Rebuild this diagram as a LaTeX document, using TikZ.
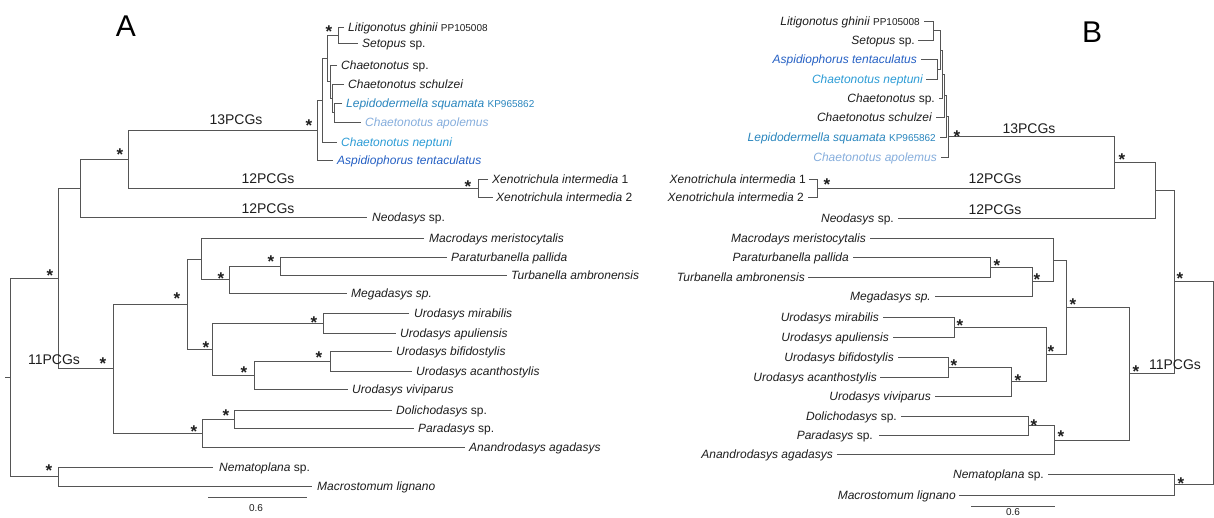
\documentclass[tikz,border=0pt]{standalone}
\usepackage{fontspec}
\setmainfont{Liberation Sans}
\definecolor{lep}{HTML}{2A86BE}
\definecolor{apo}{HTML}{86AEDD}
\definecolor{nep}{HTML}{2C9CD6}
\definecolor{asp}{HTML}{2560C4}
\definecolor{ln}{HTML}{555555}
\definecolor{tx}{HTML}{1E1E1E}
\newcommand\sm[1]{{\fontsize{10}{12}\selectfont\upshape #1}}
\newcommand\up[1]{{\upshape #1}}
\tikzset{
  br/.style={draw=ln, line width=0.8pt, line join=miter},
  tipa/.style={anchor=base west, inner sep=0pt, text=tx, font=\fontsize{12}{14}\selectfont\itshape},
  tipb/.style={anchor=base east, inner sep=0pt, text=tx, font=\fontsize{12}{14}\selectfont\itshape},
  lbl/.style={anchor=center, inner sep=0pt, text=tx, font=\fontsize{14}{16}\selectfont},
  ast/.style={anchor=base, inner sep=0pt, text=tx, font=\fontsize{17}{17}\selectfont\bfseries},
  panel/.style={anchor=center, inner sep=0pt, text=black, font=\fontsize{30}{30}\selectfont},
  scl/.style={anchor=center, inner sep=0pt, text=tx, font=\fontsize{10}{12}\selectfont}
}
\newcommand\bst[3]{\node[ast] (#1) at (#2,#3+9.9) {*};}
\begin{document}
\begin{tikzpicture}[x=1pt,y=-1pt]
\useasboundingbox[fill=white] (0,0) rectangle (1214,517);

% ================= Panel A =================
\node[panel] (pA) at (126,26) {A};
\draw[br] (5,377)--(10,377);
\draw[br] (58,278)--(10,278)--(10,476.5)--(58,476.5);
\draw[br] (213,467)--(58,467)--(58,486)--(312,486);
\draw[br] (80,188)--(58,188)--(58,368.5)--(113,368.5);
\draw[br] (128,159)--(80,159)--(80,217)--(367,217);
\draw[br] (317,130)--(128,130)--(128,188)--(478,188);
\draw[br] (488,179)--(478,179)--(478,197)--(493,197);
\draw[br] (322,100)--(317,100)--(317,160)--(333,160);
\draw[br] (327,58)--(322,58)--(322,142)--(337,142);
\draw[br] (338,35)--(327,35)--(327,81.5)--(330,81.5);
\draw[br] (344,27)--(338,27)--(338,43)--(358,43);
\draw[br] (337,65)--(330,65)--(330,98)--(332,98);
\draw[br] (344,84)--(332,84)--(332,112.5)--(334,112.5);
\draw[br] (342,103)--(334,103)--(334,122)--(361,122);
\draw[br] (187,304)--(113,304)--(113,433)--(202,433);
\draw[br] (201,259)--(187,259)--(187,349)--(212,349);
\draw[br] (424,238)--(201,238)--(201,279.5)--(229,279.5);
\draw[br] (280,266)--(229,266)--(229,293)--(347,293);
\draw[br] (447,257)--(280,257)--(280,275)--(507,275);
\draw[br] (323,323)--(212,323)--(212,375)--(254,375);
\draw[br] (409,313)--(323,313)--(323,333)--(396,333);
\draw[br] (330,361)--(254,361)--(254,389)--(348,389);
\draw[br] (392,351)--(330,351)--(330,371)--(412,371);
\draw[br] (234,419)--(202,419)--(202,447)--(465,447);
\draw[br] (392,410)--(234,410)--(234,428)--(414,428);

\node[tipa] (a1) at (348,31) {Litigonotus ghinii \sm{PP105008}};
\node[tipa] (a2) at (362,47) {Setopus \up{sp.}};
\node[tipa] (a3) at (341,69) {Chaetonotus \up{sp.}};
\node[tipa] (a4) at (348,88) {Chaetonotus schulzei};
\node[tipa,text=lep] (a5) at (346,107) {Lepidodermella squamata \sm{KP965862}};
\node[tipa,text=apo] (a6) at (365,126) {Chaetonotus apolemus};
\node[tipa,text=nep] (a7) at (341,146) {Chaetonotus neptuni};
\node[tipa,text=asp] (a8) at (337,164) {Aspidiophorus tentaculatus};
\node[tipa] (a9) at (492,183) {Xenotrichula intermedia \up{1}};
\node[tipa] (a10) at (496,201) {Xenotrichula intermedia \up{2}};
\node[tipa] (a11) at (372,221) {Neodasys \up{sp.}};
\node[tipa] (a12) at (429,242) {Macrodays meristocytalis};
\node[tipa] (a13) at (451,261) {Paraturbanella pallida};
\node[tipa] (a14) at (511,279) {Turbanella ambronensis};
\node[tipa] (a15) at (351,297) {Megadasys sp.};
\node[tipa] (a16) at (414,317) {Urodasys mirabilis};
\node[tipa] (a17) at (400,337) {Urodasys apuliensis};
\node[tipa] (a18) at (396,355) {Urodasys bifidostylis};
\node[tipa] (a19) at (416,375) {Urodasys acanthostylis};
\node[tipa] (a20) at (352,393) {Urodasys viviparus};
\node[tipa] (a21) at (396,414) {Dolichodasys \up{sp.}};
\node[tipa] (a22) at (418,432) {Paradasys \up{sp.}};
\node[tipa] (a23) at (469,451) {Anandrodasys agadasys};
\node[tipa] (a24) at (219,471) {Nematoplana \up{sp.}};
\node[tipa] (a25) at (317,490) {Macrostomum lignano};

\node[lbl] (aL13) at (236,120) {13PCGs};
\node[lbl] (aL12a) at (268,179) {12PCGs};
\node[lbl] (aL12b) at (268,209) {12PCGs};
\node[lbl] (aL11) at (54,360) {11PCGs};

\bst{sa1}{329}{28}
\bst{sa2}{309}{122}
\bst{sa3}{120}{151}
\bst{sa4}{468}{183}
\bst{sa5}{50}{272}
\bst{sa6}{49}{467}
\bst{sa7}{271}{258}
\bst{sa8}{221}{275}
\bst{sa9}{177}{295}
\bst{sa10}{206}{344}
\bst{sa11}{314}{319}
\bst{sa12}{319}{354}
\bst{sa13}{244}{369}
\bst{sa14}{103}{360}
\bst{sa15}{194}{428}
\bst{sa16}{226}{412}

\draw[br] (208,497)--(307,497);
\node[scl] (aS) at (256,508) {0.6};

% ================= Panel B =================
\node[panel] (pB) at (1092,32) {B};
\draw[br] (1174,281.75)--(1213,281.75)--(1213,484.5)--(1174,484.5);
\draw[br] (1155,190)--(1174,190)--(1174,373.5)--(1129,373.5);
\draw[br] (1048,474)--(1174,474)--(1174,495)--(959,495);
\draw[br] (1114,162)--(1155,162)--(1155,218)--(898,218);
\draw[br] (948,136.5)--(1114,136.5)--(1114,188)--(817,188);
\draw[br] (809,179)--(817,179)--(817,197)--(808,197);
\draw[br] (946,116)--(948,116)--(948,157)--(941,157);
\draw[br] (944,95.5)--(946,95.5)--(946,137)--(940,137);
\draw[br] (942,74)--(944,74)--(944,117)--(936,117);
\draw[br] (940,50)--(942,50)--(942,98)--(939,98);
\draw[br] (933,30.5)--(940,30.5)--(940,69)--(937,69);
\draw[br] (924,21)--(933,21)--(933,40)--(918,40);
\draw[br] (921,59)--(937,59)--(937,79)--(926,79);
\draw[br] (1066,307)--(1129,307)--(1129,440)--(1054,440);
\draw[br] (1053,260)--(1066,260)--(1066,354)--(1046,354);
\draw[br] (870,238)--(1053,238)--(1053,281.5)--(1032,281.5);
\draw[br] (990,267)--(1032,267)--(1032,296)--(935,296);
\draw[br] (853,257)--(990,257)--(990,277)--(808,277);
\draw[br] (954,327)--(1046,327)--(1046,381.5)--(1011,381.5);
\draw[br] (883,317)--(954,317)--(954,337)--(893,337);
\draw[br] (948,367)--(1011,367)--(1011,396)--(935,396);
\draw[br] (898,357)--(948,357)--(948,377)--(880,377);
\draw[br] (1028,425.5)--(1054,425.5)--(1054,454)--(837,454);
\draw[br] (901,416)--(1028,416)--(1028,435)--(879,435);

\node[tipb] (b1) at (920,25) {Litigonotus ghinii \sm{PP105008}};
\node[tipb] (b2) at (915,44) {Setopus \up{sp.}};
\node[tipb,text=asp] (b3) at (917,63) {Aspidiophorus tentaculatus};
\node[tipb,text=nep] (b4) at (923,83) {Chaetonotus neptuni};
\node[tipb] (b5) at (935,102) {Chaetonotus \up{sp.}};
\node[tipb] (b6) at (932,121) {Chaetonotus schulzei};
\node[tipb,text=lep] (b7) at (936,141) {Lepidodermella squamata \sm{KP965862}};
\node[tipb,text=apo] (b8) at (937,161) {Chaetonotus apolemus};
\node[tipb] (b9) at (806,183) {Xenotrichula intermedia \up{1}};
\node[tipb] (b10) at (804,201) {Xenotrichula intermedia \up{2}};
\node[tipb] (b11) at (894,222) {Neodasys \up{sp.}};
\node[tipb] (b12) at (866,242) {Macrodays meristocytalis};
\node[tipb] (b13) at (849,261) {Paraturbanella pallida};
\node[tipb] (b14) at (805,281) {Turbanella ambronensis};
\node[tipb] (b15) at (931,300) {Megadasys sp.};
\node[tipb] (b16) at (879,321) {Urodasys mirabilis};
\node[tipb] (b17) at (889,341) {Urodasys apuliensis};
\node[tipb] (b18) at (894,361) {Urodasys bifidostylis};
\node[tipb] (b19) at (877,381) {Urodasys acanthostylis};
\node[tipb] (b20) at (931,400) {Urodasys viviparus};
\node[tipb] (b21) at (897,420) {Dolichodasys \up{sp.}};
\node[tipb] (b22) at (873,439) {Paradasys \up{sp.}};
\node[tipb] (b23) at (833,458) {Anandrodasys agadasys};
\node[tipb] (b24) at (1044,478) {Nematoplana \up{sp.}};
\node[tipb] (b25) at (956,499) {Macrostomum lignano};

\node[lbl] (bL13) at (1029,129) {13PCGs};
\node[lbl] (bL12a) at (995,179) {12PCGs};
\node[lbl] (bL12b) at (995,210) {12PCGs};
\node[lbl] (bL11) at (1175,365) {11PCGs};

\bst{sb1}{827}{181}
\bst{sb2}{957}{133}
\bst{sb3}{1122}{156}
\bst{sb4}{1180}{275}
\bst{sb5}{997}{262}
\bst{sb6}{1037}{276}
\bst{sb7}{1073}{301}
\bst{sb8}{960}{322}
\bst{sb9}{1051}{348}
\bst{sb10}{954}{362}
\bst{sb11}{1018}{377}
\bst{sb12}{1034}{422}
\bst{sb13}{1061}{433}
\bst{sb14}{1136}{368}
\bst{sb15}{1181}{480}

\draw[br] (971,506)--(1055,506);
\node[scl] (bS) at (1013,512) {0.6};
\end{tikzpicture}
\end{document}
